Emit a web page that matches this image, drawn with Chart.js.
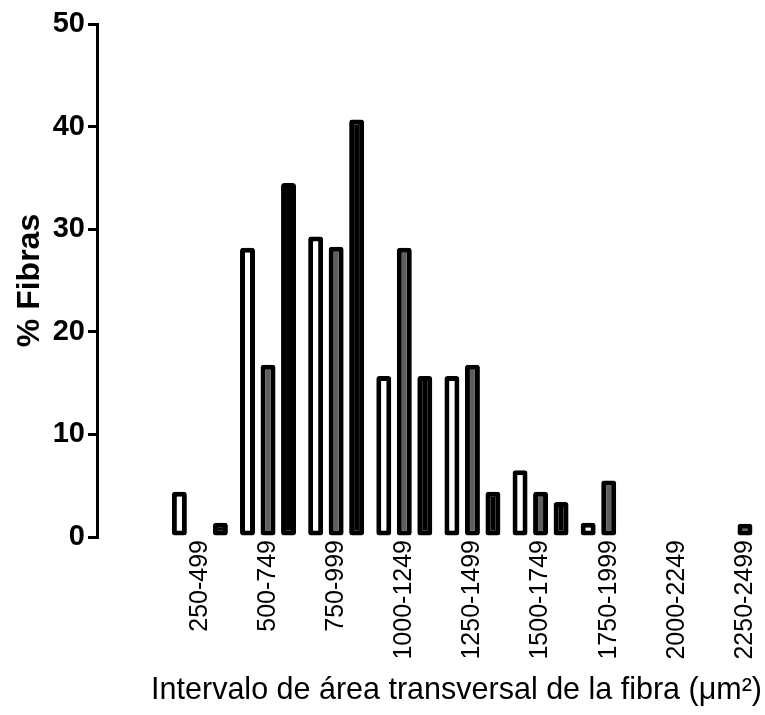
<!DOCTYPE html>
<html>
<head>
<meta charset="utf-8">
<script src="https://cdn.jsdelivr.net/npm/chart.js"></script>
<style>
  html, body { margin: 0; padding: 0; background: #fff; }
  #wrap { width: 765px; height: 715px; }
</style>
</head>
<body>
<div id="wrap"><canvas id="chart" width="765" height="715"></canvas></div>
<script>
// categorías (intervalos de área) y series
const intervals = ["250-499", "500-749", "750-999", "1000-1249", "1250-1499",
  "1500-1749", "1750-1999", "2000-2249", "2250-2499"];
const whiteSeries = [4.4, 28.2, 29.3, 15.7, 15.7, 6.5, 1.4, null, null];
const graySeries = [null, 16.8, 28.3, 28.2, 16.8, 4.4, 5.5, null, 1.3];
const blackSeries = [1.4, 34.5, 40.7, 15.7, 4.4, 3.4, null, null, null];
const yTicks = [0, 10, 20, 30, 40, 50];

const FONT = 'Arial, "Liberation Sans", sans-serif';

function toPoints(values) {
  return values.map((v, i) => ({ x: i, y: v }));
}

function barSet(values, fill) {
  return {
    data: toPoints(values),
    backgroundColor: fill,
    borderColor: "#000",
    borderWidth: 5,
    borderSkipped: false,
    borderRadius: 3,
    categoryPercentage: 0.903,
    barPercentage: 0.73,
  };
}

new Chart(document.getElementById("chart"), {
  type: "bar",
  data: {
    datasets: [
      barSet(whiteSeries, "#ffffff"),
      barSet(graySeries, "#5f5f5f"),
      barSet(blackSeries, "#000000"),
    ],
  },
  options: {
    responsive: false,
    animation: false,
    layout: { padding: { top: 24, right: 3, left: 0, bottom: 0 } },
    plugins: { legend: { display: false }, tooltip: { enabled: false } },
    scales: {
      x: {
        type: "linear",
        offset: false,
        min: -1.51,
        max: 8.25,
        grid: { display: false, drawTicks: false },
        border: { display: false },
        afterBuildTicks: (s) => { s.ticks = intervals.map((_, i) => ({ value: i })); },
        afterFit: (s) => {
          s.height = 178;
          s.paddingLeft = 0;
          s.paddingRight = 0;
        },
        ticks: {
          autoSkip: false,
          minRotation: 90,
          maxRotation: 90,
          padding: 3,
          color: "#000",
          font: { family: FONT, size: 25 },
          callback: (v) => intervals[v] ?? "",
        },
        title: {
          display: true,
          align: "end",
          text: "Intervalo de área transversal de la fibra (μm²)",
          color: "#000",
          font: { family: FONT, size: 30.5 },
          padding: { top: 4, bottom: 6 },
        },
      },
      y: {
        min: 0,
        max: 50,
        afterBuildTicks: (s) => { s.ticks = yTicks.map((v) => ({ value: v })); },
        afterFit: (s) => { s.width = 97; },
        grid: {
          display: true,
          drawOnChartArea: false,
          drawTicks: true,
          tickLength: 9,
          lineWidth: 3,
          color: "#000",
        },
        border: { display: true, width: 3, color: "#000" },
        ticks: {
          padding: 3,
          color: "#000",
          font: { family: FONT, size: 29, weight: "bold" },
        },
        title: {
          display: true,
          text: "% Fibras",
          color: "#000",
          font: { family: FONT, size: 32, weight: "bold" },
          padding: { top: 11, bottom: 0 },
        },
      },
    },
  },
});
</script>
</body>
</html>
